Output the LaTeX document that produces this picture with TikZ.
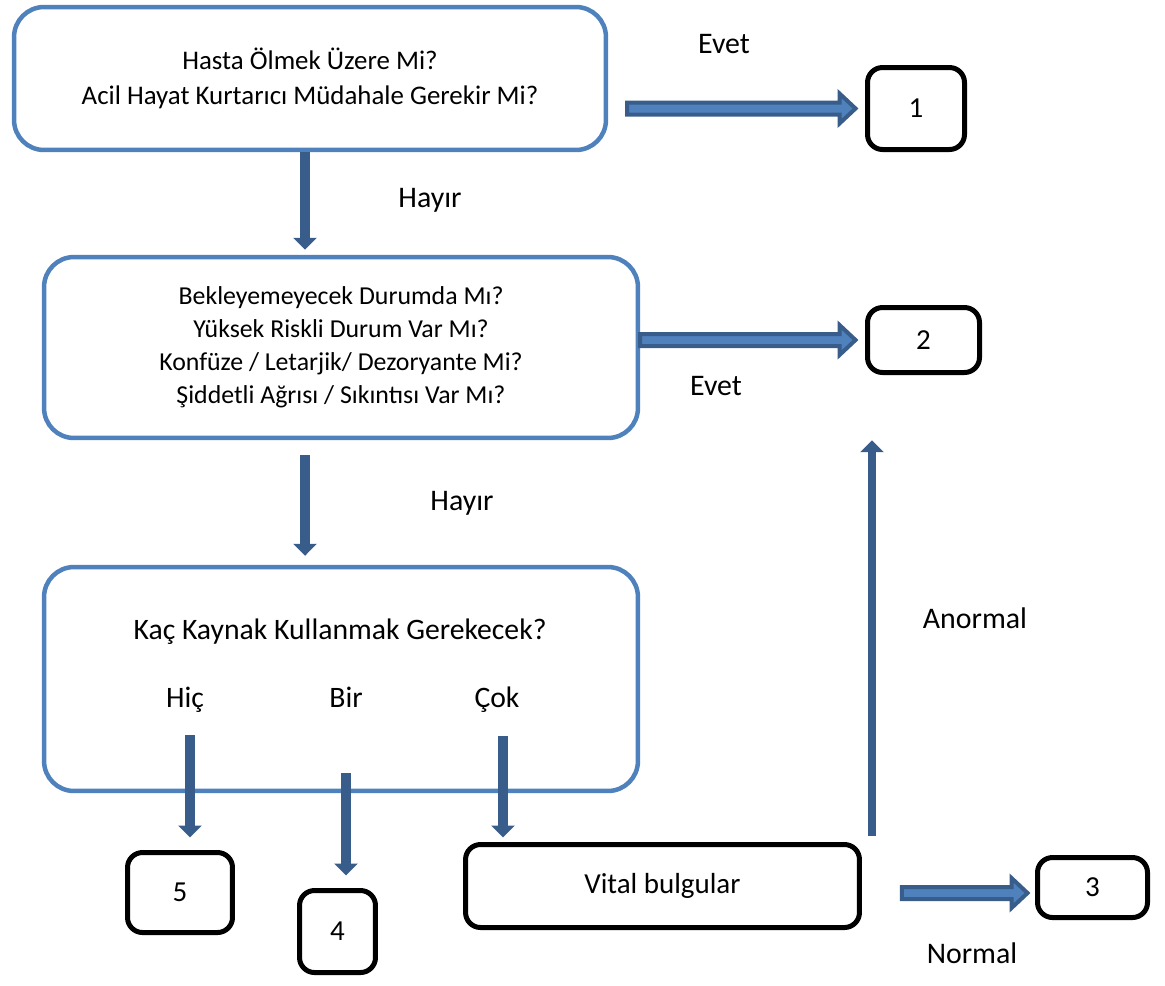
\documentclass[tikz,border=0pt]{standalone}
\usepackage{fontspec}
\setmainfont{Carlito}
\usepackage{tikz}
\usetikzlibrary{arrows.meta, positioning, calc}
\definecolor{boxblue}{RGB}{79,129,189}
\definecolor{arrowblue}{RGB}{56,93,138}

\begin{document}
\begin{tikzpicture}[x=0.02cm, y=-0.02cm, font=\fontsize{17}{20}\selectfont,
        question/.style={draw=boxblue, line width=0.09cm, rounded corners=0.6cm, align=center, inner sep=0pt},
        result/.style={draw=black, line width=0.1cm, rounded corners=0.3cm, inner sep=0pt, font=\fontsize{16.5}{20}\selectfont},
        choice/.style={anchor=base, font=\fontsize{16.9}{20}\selectfont},
        down/.style={arrowblue, line width=0.2cm, -{Triangle[length=0.24cm, width=0.46cm]}},
        blockarrow/.style={fill=boxblue, draw=arrowblue, line width=0.08cm,
            to path={let \p1=(\tikztostart), \p2=(\tikztotarget) in
                (\x1,\y1+0.12cm) -- (\x2-0.32cm,\y1+0.12cm) -- (\x2-0.32cm,\y1+0.3cm) -- (\x2,\y1)
                -- (\x2-0.32cm,\y1-0.3cm) -- (\x2-0.32cm,\y1-0.12cm) -- (\x1,\y1-0.12cm) -- cycle}}]
        \useasboundingbox (0,0) rectangle (1165,985);

        % Questions
        \node[question, minimum width=11.84cm, minimum height=2.86cm, font=\fontsize{15.3}{19.9}\selectfont] (olum) at (310,78.5)
            {Hasta Ölmek Üzere Mi?\\Acil Hayat Kurtarıcı Müdahale Gerekir Mi?};
        \node[question, minimum width=11.88cm, minimum height=3.62cm, font=\fontsize{14.7}{18.8}\selectfont] (risk) at (341,347.5)
            {Bekleyemeyecek Durumda Mı?\\Yüksek Riskli Durum Var Mı?\\Konfüze / Letarjik/ Dezoryante Mi?\\Şiddetli Ağrısı / Sıkıntısı Var Mı?};
        \node[question, minimum width=11.88cm, minimum height=4.48cm] (kaynak) at (341,679) {};
        \node[font=\fontsize{16.9}{20}\selectfont] (soru) at (340,632) {Kaç Kaynak Kullanmak Gerekecek?};
        \node[choice] (hic) at (185,707) {Hiç};
        \node[choice] (bir) at (346,707) {Bir};
        \node[choice] (cok) at (497,707) {Çok};

        % Results
        \node[result, minimum width=1.94cm, minimum height=1.64cm] (s1) at (916,108.5) {1};
        \node[result, minimum width=2.24cm, minimum height=1.3cm] (s2) at (923.5,340) {2};
        \node[result, minimum width=2.2cm, minimum height=1.2cm] (s3) at (1092.5,887.5) {3};
        \node[result, minimum width=1.52cm, minimum height=1.64cm] (s4) at (337.5,931.5) {4};
        \node[result, minimum width=2.1cm, minimum height=1.6cm] (s5) at (180,892.5) {5};
        \node[result, minimum width=7.88cm, minimum height=1.66cm] (vital) at (662.5,886) {Vital bulgular};

        % Yes / no arrows
        \draw[blockarrow] ([xshift=0.38cm]olum.east |- s1.west) to ([xshift=-0.19cm]s1.west);
        \draw[blockarrow] (risk.east |- s2.west) to ([xshift=-0.19cm]s2.west);
        \draw[down, shorten >=0.1cm] ([xshift=-0.1cm]olum.south) -- ([xshift=-0.1cm]olum.south |- risk.north);
        \draw[down, shorten <=0.3cm, shorten >=0.18cm] ([xshift=-0.72cm]risk.south) -- ([xshift=-0.72cm]risk.south |- kaynak.north);
        \node (evet1) at (724,44) {Evet};
        \node (hayir1) at (430,200) {Hayır};
        \node (evet2) at (716,386) {Evet};
        \node (hayir2) at (462,503) {Hayır};

        % Resource arrows
        \draw[down, shorten >=0.25cm] ([xshift=0.1cm, yshift=-0.56cm]hic.base) -- ([xshift=0.1cm]hic.base |- s5.north);
        \draw[down, shorten >=0.25cm] ([yshift=-1.32cm]bir.base) -- (bir.base |- s4.north);
        \draw[down, shorten >=0.09cm] ([xshift=0.12cm, yshift=-0.58cm]cok.base) -- ([xshift=0.12cm]cok.base |- vital.north);

        % Vital signs
        \draw[down, line width=0.16cm, shorten <=0.12cm] ([xshift=0.2cm]vital.north east) -- ([xshift=0.2cm]vital.north east |- risk.south);
        \draw[blockarrow] ([xshift=0.8cm, yshift=-0.14cm]vital.east) to ([xshift=-0.15cm]s3.west);
        \node (anormal) at (975,618) {Anormal};
        \node (normal) at (972,953) {Normal};
    \end{tikzpicture}
\end{document}
